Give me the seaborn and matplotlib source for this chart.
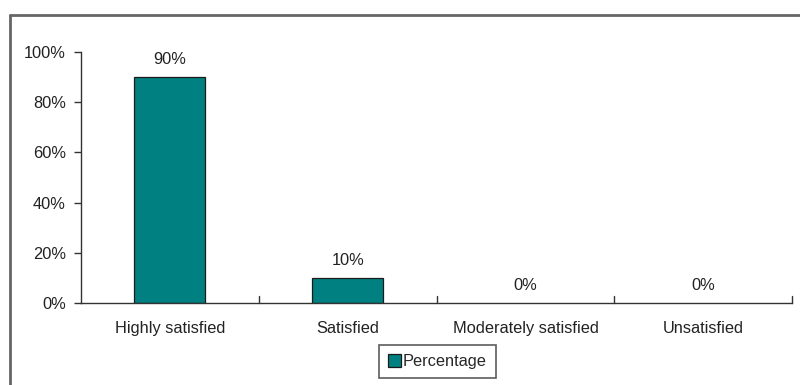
import matplotlib
matplotlib.use("Agg")
import matplotlib.pyplot as plt
from matplotlib.lines import Line2D
from matplotlib.patches import Patch
import seaborn as sns
import pandas as pd

categories = ["Highly satisfied", "Satisfied", "Moderately satisfied", "Unsatisfied"]
percentages = [90, 10, 0, 0]
bar_labels = ["90%", "10%", "0%", "0%"]
yticks = [0, 20, 40, 60, 80, 100]
ytick_labels = ["0%", "20%", "40%", "60%", "80%", "100%"]
series_name = "Percentage"

sns.set_style("white")
plt.rcParams['font.family'] = ['Liberation Sans Narrow', 'Liberation Sans', 'DejaVu Sans']

df = pd.DataFrame({"cat": categories, "val": percentages})
FS = 11.8
TXT = "#222222"

fig = plt.figure(figsize=(8, 3.85), dpi=100)
ax = fig.add_axes([0.10125, 0.213, 0.889, 0.652])
sns.barplot(data=df, x="cat", y="val", ax=ax, color="#008080", width=0.4,
            edgecolor="#1a1a1a", linewidth=0.9, saturation=1)
for p in ax.patches:
    if p.get_height() == 0:
        p.set_edgecolor("none")

ax.set_ylim(0, 100)
ax.set_xlim(-0.5, len(categories) - 0.5)
ax.set_yticks(yticks)
ax.set_yticklabels(ytick_labels, fontsize=FS, color=TXT)
ax.set_xticks(range(len(categories)))
ax.set_xticklabels(categories, fontsize=FS, color=TXT)
ax.set_xlabel("")
ax.set_ylabel("")
ax.tick_params(axis="x", length=0, pad=13)
ax.tick_params(axis="y", length=5, width=1, direction="out", pad=6, color="#333333", left=True)
# boundary ticks on x axis (inside)
for b in [0.5, 1.5, 2.5, 3.5]:
    ax.plot([b, b], [0, 2.6], color="#333333", lw=1, clip_on=False)

for s in ["top", "right"]:
    ax.spines[s].set_visible(False)
for s in ["left", "bottom"]:
    ax.spines[s].set_color("#333333")
    ax.spines[s].set_linewidth(1)

for i, (v, lab) in enumerate(zip(percentages, bar_labels)):
    ax.annotate(lab, (i, v), xytext=(0, 7), textcoords="offset points",
                ha="center", va="bottom", fontsize=FS, color=TXT)

# figure frame
fig.add_artist(Line2D([0.0125, 0.0125], [0.0, 0.961], color="#666666", lw=2, transform=fig.transFigure))
fig.add_artist(Line2D([0.0125, 1.0], [0.961, 0.961], color="#666666", lw=2, transform=fig.transFigure))

handle = Patch(facecolor="#008080", edgecolor="#1a1a1a", linewidth=0.9)
leg = fig.legend([handle], [series_name], loc="center", bbox_to_anchor=(0.5465, 0.061),
                 fontsize=FS, frameon=True, fancybox=False, handlelength=0.8, handleheight=0.8,
                 handletextpad=0.1, borderpad=0.55, borderaxespad=0)
leg.get_frame().set_edgecolor("#333333")
leg.get_frame().set_linewidth(1.2)

fig.savefig("out.png", dpi=100)
